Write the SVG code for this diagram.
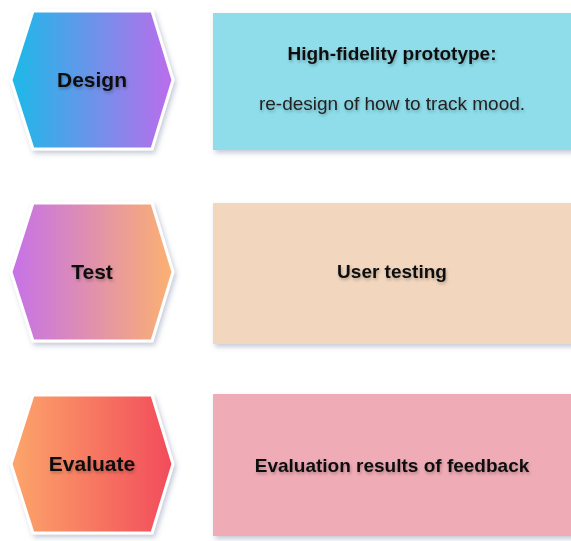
<svg xmlns="http://www.w3.org/2000/svg" width="571" height="541" viewBox="0 0 571 541">
  <defs>
    <linearGradient id="gDesign" x1="0" y1="0" x2="1" y2="0">
      <stop offset="0" stop-color="#1BBAE8"/>
      <stop offset="1" stop-color="#BC6CEC"/>
    </linearGradient>
    <linearGradient id="gTest" x1="0" y1="0" x2="1" y2="0">
      <stop offset="0" stop-color="#C571E9"/>
      <stop offset="1" stop-color="#FCB170"/>
    </linearGradient>
    <linearGradient id="gEval" x1="0" y1="0" x2="1" y2="0">
      <stop offset="0" stop-color="#FCA66A"/>
      <stop offset="1" stop-color="#F24B5A"/>
    </linearGradient>
    <filter id="shadow" x="-20%" y="-20%" width="140%" height="140%">
      <feDropShadow dx="2" dy="3" stdDeviation="2.5" flood-color="#5a6a90" flood-opacity="0.35"/>
    </filter>
    <filter id="tshadow" x="-10%" y="-30%" width="120%" height="160%">
      <feDropShadow dx="1" dy="2" stdDeviation="1.5" flood-color="#000" flood-opacity="0.25"/>
    </filter>
  </defs>
  <style>
    .hex { stroke: #ffffff; stroke-width: 3; filter: url(#shadow); }
    .box { filter: url(#shadow); }
    .t { font-family: "Liberation Sans", Arial, sans-serif; fill: #111; text-anchor: middle; filter: url(#tshadow); }
    .hl { font-size: 21px; font-weight: bold; }
    .bl { font-size: 19px; font-weight: bold; }
    .nl { font-size: 19px; font-weight: normal; fill: #222; }
  </style>

  <g id="design">
    <polygon class="hex" fill="url(#gDesign)" points="33,11 152,11 173,80 152,149 33,149 11,80"/>
    <text class="t hl" x="92" y="87">Design</text>
  </g>
  <g id="design-detail">
    <rect class="box" x="213" y="13" width="362" height="137" fill="#8FDDEA"/>
    <text class="t bl" x="392" y="60">High-fidelity prototype:</text>
    <text class="t nl" x="392" y="110">re-design of how to track mood.</text>
  </g>

  <g id="test">
    <polygon class="hex" fill="url(#gTest)" points="33,203 152,203 173,272 152,341 33,341 11,272"/>
    <text class="t hl" x="92" y="279">Test</text>
  </g>
  <g id="test-detail">
    <rect class="box" x="213" y="203" width="362" height="141" fill="#F2D6BE"/>
    <text class="t bl" x="392" y="278">User testing</text>
  </g>

  <g id="evaluate">
    <polygon class="hex" fill="url(#gEval)" points="33,395 152,395 173,464 152,533 33,533 11,464"/>
    <text class="t hl" x="92" y="471">Evaluate</text>
  </g>
  <g id="evaluate-detail">
    <rect class="box" x="213" y="394" width="362" height="142" fill="#EFABB6"/>
    <text class="t bl" x="392" y="472">Evaluation results of feedback</text>
  </g>

  <g id="connectors"></g>
</svg>
